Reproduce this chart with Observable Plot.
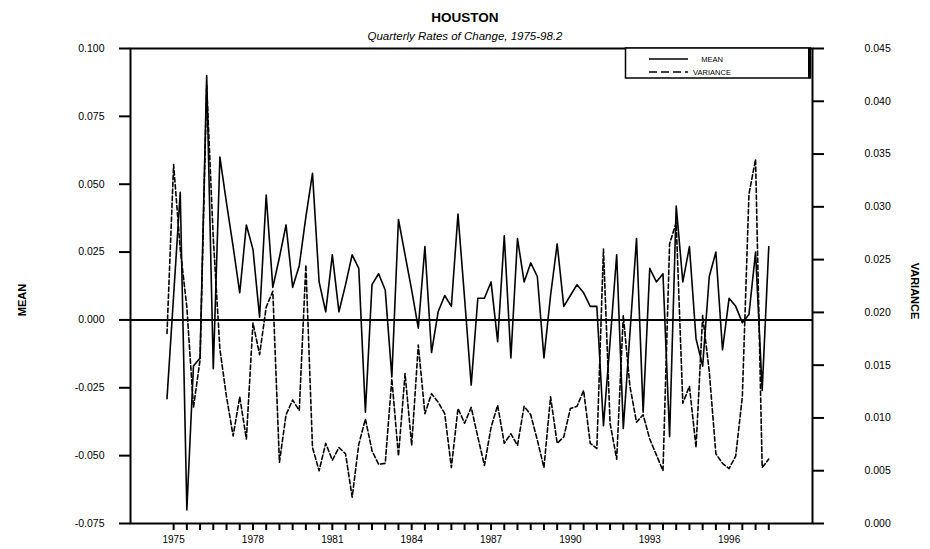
<!DOCTYPE html>
<html><head><meta charset="utf-8">
<script src="https://cdn.jsdelivr.net/npm/d3@7"></script>
<script src="https://cdn.jsdelivr.net/npm/@observablehq/plot@0.6"></script>
<style>
html,body{margin:0;padding:0;background:#fff;}
#chart svg{display:block;}
</style></head><body><div id="chart"></div>
<script>
// Quarterly series, 1975Q3 .. 1998Q2
const meanValues = [
 -0.029, 0.009, 0.047, -0.070, -0.017, -0.014, 0.090, -0.018, 0.060, 0.043,
 0.027, 0.010, 0.035, 0.026, 0.001, 0.046, 0.012, 0.023, 0.035, 0.012,
 0.020, 0.038, 0.054, 0.014, 0.003, 0.024, 0.003, 0.013, 0.024, 0.019,
 -0.034, 0.013, 0.017, 0.011, -0.021, 0.037, 0.024, 0.011, -0.003, 0.027,
 -0.012, 0.003, 0.009, 0.005, 0.039, 0.008, -0.024, 0.008, 0.008, 0.014,
 -0.008, 0.031, -0.014, 0.030, 0.014, 0.021, 0.016, -0.014, 0.009, 0.028,
 0.005, 0.009, 0.013, 0.010, 0.005, 0.005, -0.039, -0.008, 0.024, -0.040,
 -0.005, 0.030, -0.034, 0.019, 0.014, 0.017, -0.043, 0.042, 0.014, 0.027,
 -0.007, -0.017, 0.016, 0.025, -0.011, 0.008, 0.005, -0.001, 0.002, 0.025,
 -0.026, 0.027
];
const varianceValues = [
 0.018, 0.034, 0.026, 0.0205, 0.011, 0.0155, 0.0415, 0.027, 0.0165, 0.012,
 0.0083, 0.012, 0.008, 0.019, 0.016, 0.0205, 0.022, 0.0058, 0.0103, 0.0117,
 0.0107, 0.0245, 0.0072, 0.005, 0.0076, 0.006, 0.0072, 0.0066, 0.0025, 0.0075,
 0.0099, 0.0069, 0.0056, 0.0057, 0.0137, 0.0064, 0.0142, 0.0074, 0.0169, 0.0104,
 0.0123, 0.0115, 0.0104, 0.0053, 0.0109, 0.0095, 0.011, 0.0082, 0.0055, 0.0091,
 0.0112, 0.0076, 0.0085, 0.0074, 0.0111, 0.0103, 0.0079, 0.0053, 0.012, 0.0076,
 0.0082, 0.0109, 0.0111, 0.0126, 0.0076, 0.0071, 0.026, 0.0095, 0.0061, 0.0197,
 0.013, 0.0096, 0.0103, 0.008, 0.0065, 0.005, 0.0265, 0.0285, 0.0114, 0.013,
 0.0072, 0.0197, 0.0144, 0.0066, 0.0057, 0.0052, 0.0064, 0.012, 0.0312, 0.0345,
 0.0053, 0.0061
];
const yearLabels = ["1975","1978","1981","1984","1987","1990","1993","1996"];
const meanTicks = [-0.075, -0.05, -0.025, 0, 0.025, 0.05, 0.075, 0.1];
const varianceTicks = [0, 0.005, 0.01, 0.015, 0.02, 0.025, 0.03, 0.035, 0.04, 0.045];
const seriesNames = ["MEAN", "VARIANCE"];
const titleText = "HOUSTON";
const subtitleText = "Quarterly Rates of Change, 1975-98.2";

const W = 930, H = 549, mL = 130, mR = 118, mT = 48, mB = 26;
const yMin = -0.075, yMax = 0.1, vMin = 0, vMax = 0.045;
const toY = v => yMin + (v - vMin) / (vMax - vMin) * (yMax - yMin);
const fromY = y => vMin + (y - yMin) / (yMax - yMin) * (vMax - vMin);

const data = meanValues.map((m, i) => ({i, mean: m, variance: varianceValues[i], vy: toY(varianceValues[i])}));
const tickIdx = d3.range(1, meanValues.length, 2);
const labelAt = new Map(yearLabels.map((y, k) => [1 + 12 * k, y]));
const font = "'Liberation Sans', Arial, sans-serif";

const chart = Plot.plot({
  width: W, height: H,
  marginLeft: mL, marginRight: mR, marginTop: mT, marginBottom: mB,
  style: {fontFamily: font, background: "#fff", color: "#000"},
  x: {domain: [-5.52, 97.61]},
  y: {domain: [yMin, yMax]},
  marks: [
    Plot.frame({stroke: "#000", strokeWidth: 2}),
    Plot.ruleY([0], {stroke: "#000", strokeWidth: 2}),
    Plot.line(data, {x: "i", y: "vy", stroke: "#000", strokeWidth: 1.6, strokeDasharray: "4.5,2.5"}),
    Plot.line(data, {x: "i", y: "mean", stroke: "#000", strokeWidth: 1.6}),
    Plot.axisY({anchor: "left", ticks: meanTicks, tickSize: 11, tickPadding: 15, strokeWidth: 2,
      tickFormat: d => d.toFixed(3), fontSize: 10.5, label: null}),
    Plot.axisY({anchor: "right", ticks: varianceTicks.map(toY), tickSize: 11, tickPadding: 41, strokeWidth: 2,
      tickFormat: d => fromY(d).toFixed(3), fontSize: 10.5, label: null, textAnchor: "start"}),
    Plot.axisX({ticks: tickIdx, tickSize: 7, tickPadding: 5, strokeWidth: 2,
      tickFormat: d => labelAt.get(d) ?? "", fontSize: 10, label: null})
  ]
});
document.getElementById("chart").append(chart);

// Decorations: title, subtitle, axis titles, legend
const svg = d3.select(chart);
const g = svg.append("g").attr("font-family", font).attr("fill", "#000");
g.append("text").attr("x", 465).attr("y", 22).attr("text-anchor", "middle")
  .attr("font-size", 13.5).attr("font-weight", "bold").text(titleText);
g.append("text").attr("x", 465).attr("y", 40).attr("text-anchor", "middle")
  .attr("font-size", 11.5).attr("font-style", "italic").text(subtitleText);
g.append("text").attr("transform", "translate(26,300) rotate(-90)").attr("text-anchor", "middle")
  .attr("font-size", 11).attr("font-weight", "bold").text(seriesNames[0]);
g.append("text").attr("transform", "translate(911,291) rotate(90)").attr("text-anchor", "middle")
  .attr("font-size", 11).attr("font-weight", "bold").text(seriesNames[1]);

const lg = svg.append("g");
lg.append("rect").attr("x", 625.5).attr("y", 48).attr("width", 185).attr("height", 30)
  .attr("fill", "#fff").attr("stroke", "#000").attr("stroke-width", 1.5);
lg.append("line").attr("x1", 809.5).attr("x2", 809.5).attr("y1", 48).attr("y2", 78)
  .attr("stroke", "#000").attr("stroke-width", 3);
lg.append("line").attr("x1", 649).attr("x2", 688).attr("y1", 59).attr("y2", 59)
  .attr("stroke", "#000").attr("stroke-width", 1.6);
lg.append("line").attr("x1", 649).attr("x2", 688).attr("y1", 72).attr("y2", 72)
  .attr("stroke", "#000").attr("stroke-width", 1.6).attr("stroke-dasharray", "8,4");
seriesNames.forEach((s, k) => {
  lg.append("text").attr("x", 712).attr("y", 61.5 + 13 * k).attr("font-family", font)
    .attr("font-size", 7.5).attr("fill", "#000").text(s);
});
</script></body></html>
